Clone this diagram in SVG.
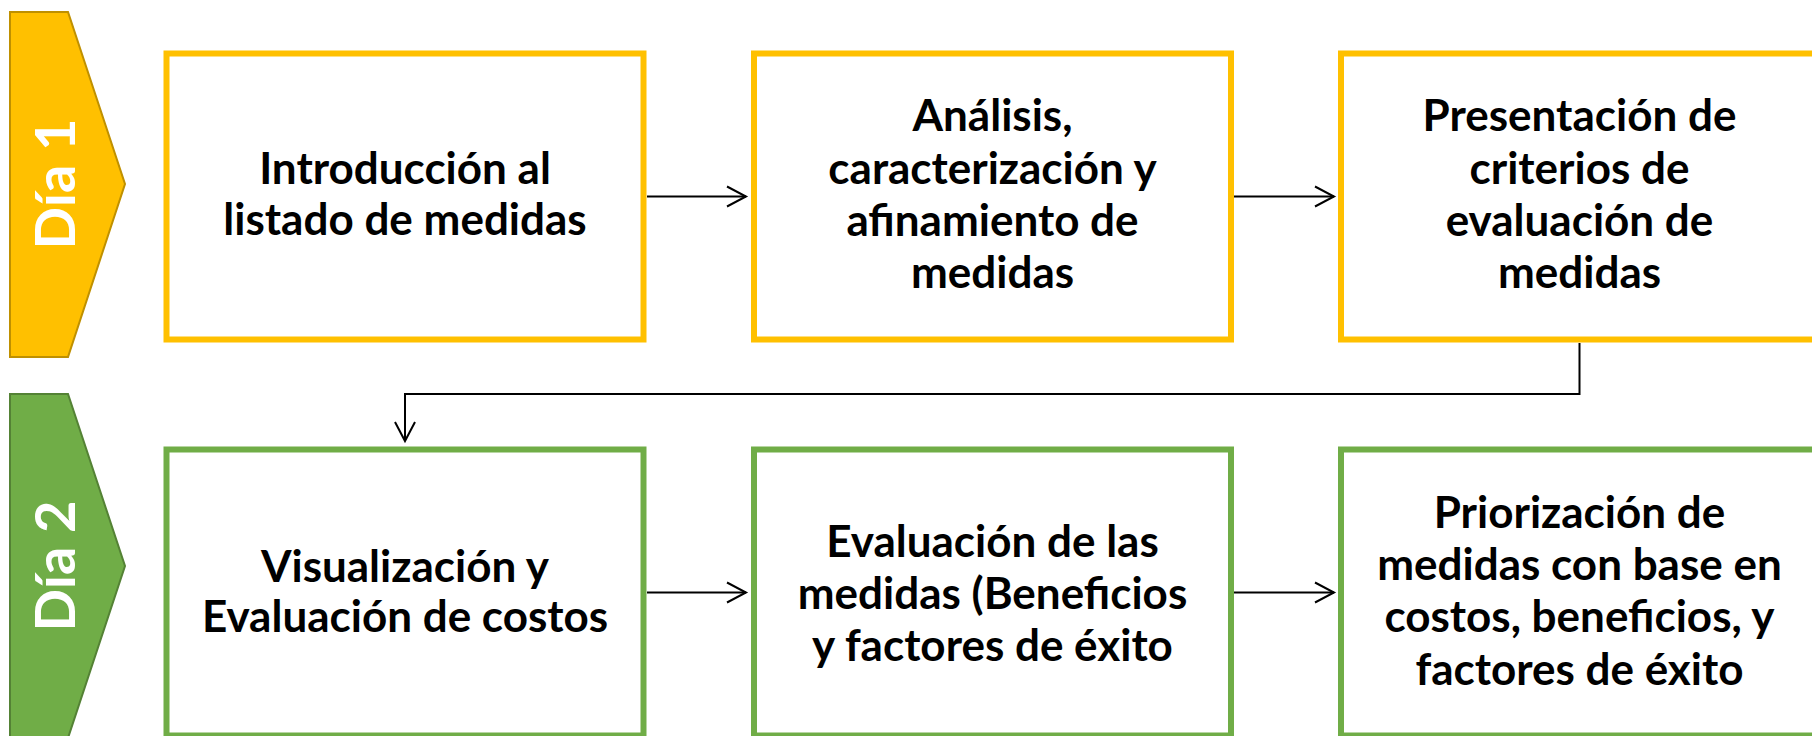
<svg xmlns="http://www.w3.org/2000/svg" width="1812" height="736" viewBox="0 0 1812 736">
  <style>
    .day1 { fill: #FFC000; stroke: #BF9000; stroke-width: 2; }
    .day2 { fill: #70AD47; stroke: #548235; stroke-width: 2; }
    .daytxt { font-family: Lato, "Open Sans", sans-serif; font-weight: bold; font-size: 56px; fill: #FFFFFF; text-anchor: middle; }
    .box1 { fill: #FFFFFF; stroke: #FFC000; stroke-width: 6; }
    .box2 { fill: #FFFFFF; stroke: #70AD47; stroke-width: 6; }
    .lbl { font-family: Lato, "Open Sans", sans-serif; font-weight: bold; font-size: 44px; fill: #000000; text-anchor: middle; }
    .conn { fill: none; stroke: #000000; stroke-width: 2; marker-end: url(#arr); }
  </style>
  <defs>
    <marker id="arr" markerUnits="userSpaceOnUse" markerWidth="24" markerHeight="24" viewBox="-21 -12 24 24" refX="0" refY="0" orient="auto">
      <path d="M-19,-10 L0,0 L-19,10" fill="none" stroke="#000000" stroke-width="2"/>
    </marker>
  </defs>
  <rect x="0" y="0" width="1812" height="736" fill="#FFFFFF"/>

  <g id="dia1">
    <polygon class="day1" points="10,12 68,12 125,184 68,357 10,357"/>
    <text class="daytxt" transform="translate(75,184) rotate(-90)" x="0" y="0">Día 1</text>
  </g>
  <g id="dia2">
    <polygon class="day2" points="10,394 68,394 125,566 68,738 10,738"/>
    <text class="daytxt" transform="translate(75,566) rotate(-90)" x="0" y="0">Día 2</text>
  </g>

  <g id="n1">
    <rect class="box1" x="166.5" y="53.5" width="477" height="286"/>
    <text class="lbl" x="405" y="183.5">Introducción al</text>
    <text class="lbl" x="405" y="235">listado de medidas</text>
  </g>
  <g id="n2">
    <rect class="box1" x="754" y="53.5" width="477" height="286"/>
    <text class="lbl" x="992.5" y="131">Análisis,</text>
    <text class="lbl" x="992.5" y="183.5">caracterización y</text>
    <text class="lbl" x="992.5" y="235.5">afinamiento de</text>
    <text class="lbl" x="992.5" y="288">medidas</text>
  </g>
  <g id="n3">
    <rect class="box1" x="1341" y="53.5" width="477" height="286"/>
    <text class="lbl" x="1579.5" y="131">Presentación de</text>
    <text class="lbl" x="1579.5" y="183.5">criterios de</text>
    <text class="lbl" x="1579.5" y="235.5">evaluación de</text>
    <text class="lbl" x="1579.5" y="288">medidas</text>
  </g>
  <g id="n4">
    <rect class="box2" x="166.5" y="449.5" width="477" height="286"/>
    <text class="lbl" x="405" y="581.5">Visualización y</text>
    <text class="lbl" x="405" y="632">Evaluación de costos</text>
  </g>
  <g id="n5">
    <rect class="box2" x="754" y="449.5" width="477" height="286"/>
    <text class="lbl" x="992.5" y="557">Evaluación de las</text>
    <text class="lbl" x="992.5" y="609">medidas (Beneficios</text>
    <text class="lbl" x="992.5" y="661">y factores de éxito</text>
  </g>
  <g id="n6">
    <rect class="box2" x="1341" y="449.5" width="477" height="286"/>
    <text class="lbl" x="1579.5" y="528">Priorización de</text>
    <text class="lbl" x="1579.5" y="580">medidas con base en</text>
    <text class="lbl" x="1579.5" y="632">costos, beneficios, y</text>
    <text class="lbl" x="1579.5" y="684.5">factores de éxito</text>
  </g>

  <g id="connectors">
    <path class="conn" d="M647,196.5 H746"/>
    <path class="conn" d="M1234,196.5 H1334"/>
    <path class="conn" d="M1579.5,343 V394 H405 V441"/>
    <path class="conn" d="M647,592.5 H746"/>
    <path class="conn" d="M1234,592.5 H1334"/>
  </g>
</svg>
